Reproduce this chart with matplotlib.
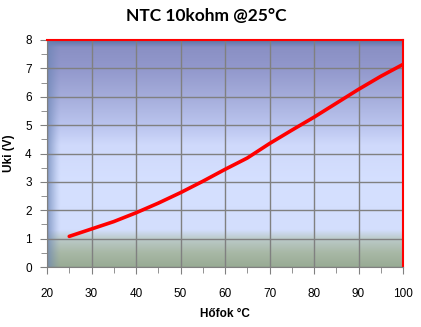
import numpy as np
import matplotlib.pyplot as plt
from matplotlib.colors import to_rgb
from matplotlib.ticker import MultipleLocator

# hőfok (°C) és kimeneti feszültség (V)
temps = [25, 30, 35, 40, 45, 50, 55, 60, 65, 70, 75, 80, 85, 90, 95, 100]
uki = [1.08, 1.34, 1.60, 1.91, 2.25, 2.62, 3.02, 3.44, 3.84, 4.35, 4.82, 5.28, 5.77, 6.26, 6.72, 7.14]

plt.rcParams['font.family'] = ['Liberation Sans', 'DejaVu Sans']

fig = plt.figure(figsize=(4.21, 3.27), dpi=100)
ax = fig.add_axes([47 / 421, 1 - 267 / 327, 356 / 421, 227 / 327])

# Excel-szerű színátmenetes háttér
stops_y = [0.0, 0.5, 1.0, 1.3, 3.0, 4.3, 5.0, 6.0, 7.0, 7.75, 7.9, 8.0]
stops_c = ['#98ab94', '#a8b8a6', '#bccbcb', '#d3defd', '#d5e0ff', '#cfd9fb',
           '#bac4ee', '#a5addb', '#9298cc', '#8a90c4', '#6d80b4', '#5f74a8']
ny, nx = 400, 400
yy = np.linspace(8, 0, ny)
cols = np.array([to_rgb(c) for c in stops_c])
img = np.zeros((ny, nx, 3))
for k in range(3):
    col = np.interp(yy, stops_y, cols[:, k])
    img[:, :, k] = col[:, None]
xx = np.linspace(20, 100, nx)
shade = np.clip(1 - (xx - 20) / 3.0, 0, 1) ** 1.3
edge = np.array(to_rgb('#6a84b4'))
img = img * (1 - 0.75 * shade[None, :, None]) + edge * 0.75 * shade[None, :, None]
ax.imshow(img, extent=[20, 100, 0, 8], aspect='auto', zorder=0, interpolation='bilinear')

ax.set_xlim(20, 100)
ax.set_ylim(0, 8)
ax.xaxis.set_major_locator(MultipleLocator(10))
ax.xaxis.set_minor_locator(MultipleLocator(5))
ax.yaxis.set_major_locator(MultipleLocator(1))
ax.yaxis.set_minor_locator(MultipleLocator(0.5))
ax.grid(True, which='major', color='#808080', lw=1, zorder=1)
ax.set_axisbelow(False)

ax.plot(temps, uki, color='#ff0000', lw=2.6, solid_capstyle='round', zorder=3)

ax.tick_params(which='both', direction='out', color='#808080', labelsize=8.5)
ax.tick_params(axis='x', which='major', length=5, pad=10)
ax.tick_params(axis='x', which='minor', length=4)
ax.tick_params(axis='y', which='major', length=5, pad=6)
ax.tick_params(axis='y', which='minor', length=4)
for s in ['left', 'bottom']:
    ax.spines[s].set_color('#808080')
for s in ['top', 'right']:
    ax.spines[s].set_color('#ff0000')
    ax.spines[s].set_linewidth(1.5)
for s in ax.spines.values():
    s.set_zorder(4)

ax.set_xlabel('Hőfok °C', fontsize=8.5, fontweight='bold', labelpad=6)
ax.set_ylabel('Uki (V)', fontsize=8.5, fontweight='bold', labelpad=7)
fig.text(206 / 421, 1 - 16 / 327, 'NTC 10kohm @25°C', ha='center', va='center',
         fontsize=12.5, fontweight='bold', family=['Lato', 'DejaVu Sans'])

fig.savefig('out.png', dpi=100)
